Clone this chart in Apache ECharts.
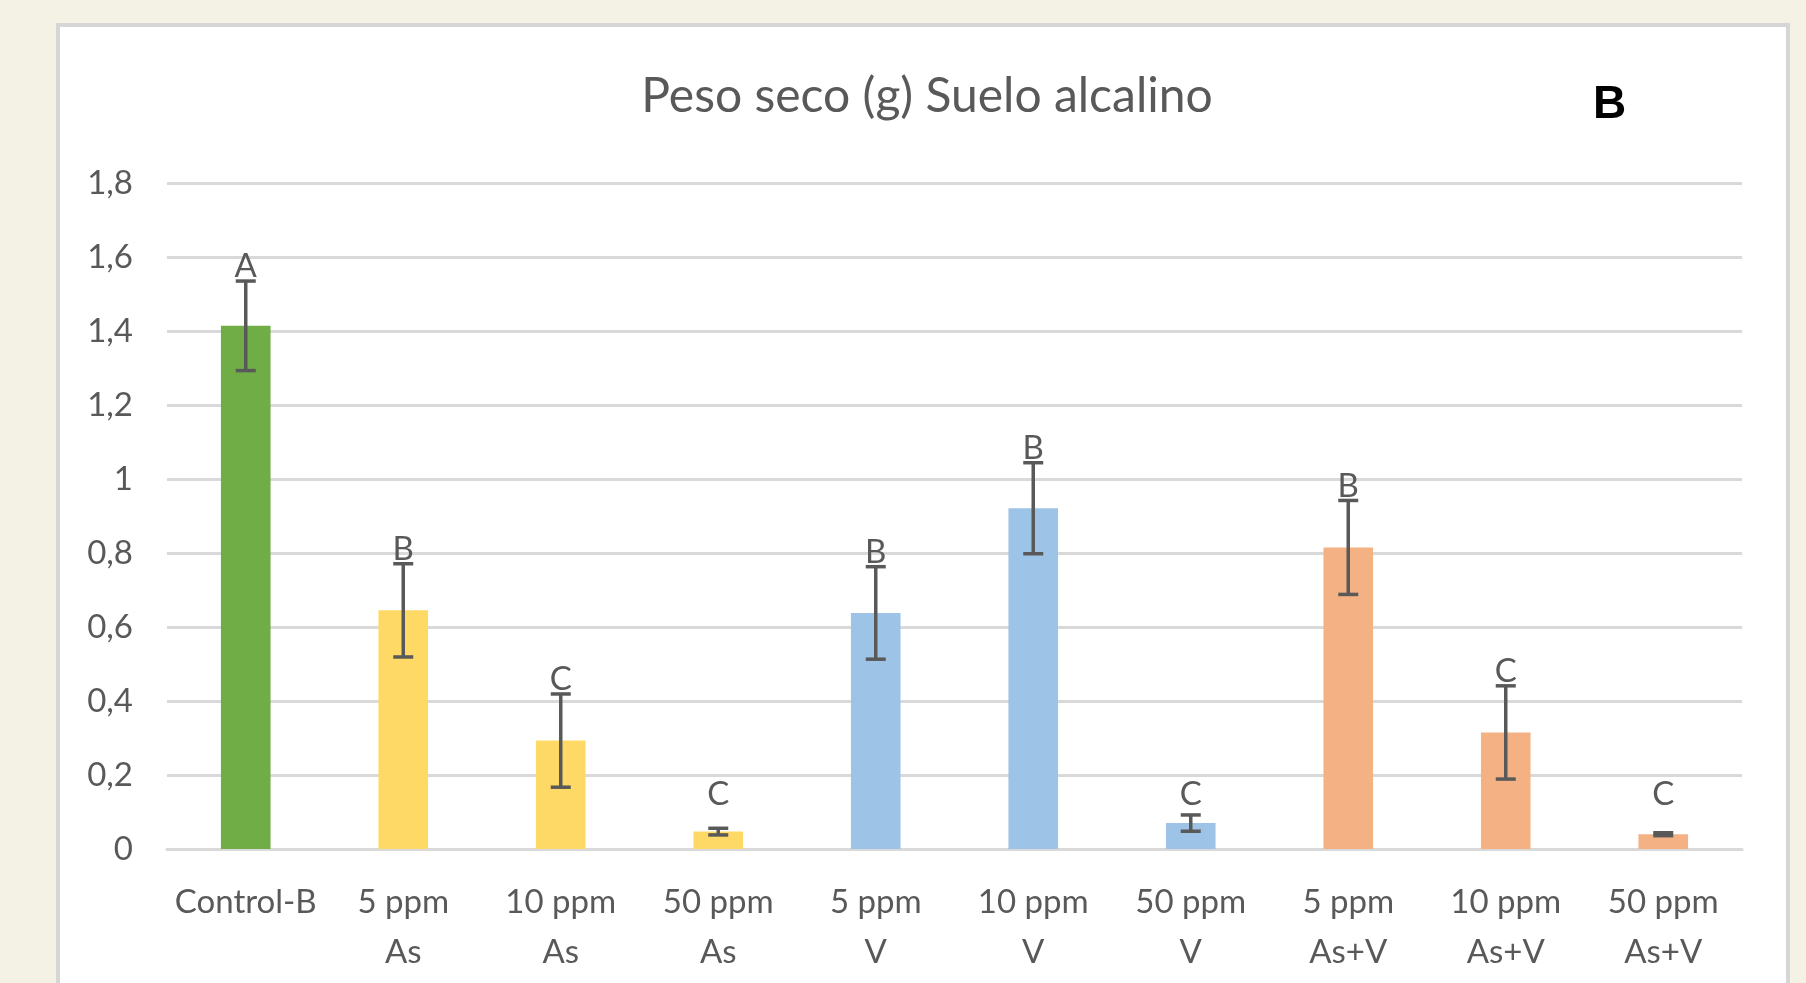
<!DOCTYPE html>
<html>
<head>
<meta charset="utf-8">
<script src="https://cdn.jsdelivr.net/npm/echarts@6/dist/echarts.min.js"></script>
<style>
html,body{margin:0;padding:0;background:#F4F1E5;}
#chart{width:1806px;height:983px;}
</style>
</head>
<body>
<div id="chart"></div>
<script>
// ---- data ----
const categories = ['Control-B', '5 ppm\nAs', '10 ppm\nAs', '50 ppm\nAs', '5 ppm\nV', '10 ppm\nV', '50 ppm\nV', '5 ppm\nAs+V', '10 ppm\nAs+V', '50 ppm\nAs+V'];
const values = [1.414, 0.645, 0.293, 0.047, 0.638, 0.921, 0.070, 0.815, 0.315, 0.040];
const errors = [0.121, 0.126, 0.126, 0.009, 0.125, 0.123, 0.022, 0.127, 0.126, 0.004];
const letters = ['A', 'B', 'C', 'C', 'B', 'B', 'C', 'B', 'C', 'C'];
const groups = ['control', 'As', 'As', 'As', 'V', 'V', 'V', 'AsV', 'AsV', 'AsV'];
const yTicks = [0, 0.2, 0.4, 0.6, 0.8, 1, 1.2, 1.4, 1.6, 1.8];
const titleText = 'Peso seco (g) Suelo alcalino';
const panelLetter = 'B';

// ---- styling ----
const groupColors = { control: '#70AD47', As: '#FFD966', V: '#9DC3E6', AsV: '#F4B183' };
const textColor = '#595959';
const gridColor = '#D9D9D9';
const fontFam = 'Lato, "Open Sans", sans-serif';

const chart = echarts.init(document.getElementById('chart'), null, { renderer: 'canvas' });

const errData = values.map((v, i) => [i, v - errors[i], v + errors[i], letters[i]]);

const option = {
  backgroundColor: '#F4F1E5',
  animation: false,
  graphic: [
    {
      type: 'rect', z: -10, silent: true,
      shape: { x: 58, y: 25, width: 1730, height: 1000 },
      style: { fill: '#FFFFFF', stroke: '#D6D6D6', lineWidth: 4 }
    },
    {
      type: 'text', z: 10, left: 1593, top: 82,
      style: { text: panelLetter, fill: '#000000', font: 'bold 46px "Liberation Sans", Arial, sans-serif' }
    }
  ],
  title: {
    text: titleText,
    left: 922, top: 68, textAlign: 'center',
    textStyle: { color: textColor, fontFamily: fontFam, fontWeight: 'normal', fontSize: 48 }
  },
  grid: { left: 167, right: 64, top: 183, bottom: 134, containLabel: false },
  xAxis: {
    type: 'category',
    data: categories,
    axisLine: { show: true, lineStyle: { color: gridColor, width: 3 } },
    axisTick: { show: false },
    axisLabel: {
      color: textColor, fontFamily: fontFam, fontSize: 33, lineHeight: 50,
      margin: 28, interval: 0
    },
    splitLine: { show: false }
  },
  yAxis: {
    type: 'value',
    min: 0, max: 1.8, interval: 0.2,
    axisLine: { show: false },
    axisTick: { show: false },
    axisLabel: {
      color: textColor, fontFamily: fontFam, fontSize: 33, margin: 34,
      formatter: function (v) {
        const t = yTicks.find(x => Math.abs(x - v) < 1e-9);
        const val = t === undefined ? v : t;
        return String(Math.round(val * 10) / 10).replace('.', ',');
      }
    },
    splitLine: { show: true, lineStyle: { color: gridColor, width: 3 } }
  },
  series: [
    {
      type: 'bar',
      barWidth: '31.5%',
      data: values.map((v, i) => ({ value: v, itemStyle: { color: groupColors[groups[i]] } })),
      z: 2
    },
    {
      type: 'custom',
      z: 5,
      data: errData,
      renderItem: function (params, api) {
        const x = api.coord([api.value(0), 0])[0];
        const zeroY = api.coord([api.value(0), 0])[1];
        const lo = api.coord([api.value(0), api.value(1)])[1];
        const hi = api.coord([api.value(0), api.value(2)])[1];
        const half = 10;
        const st = { stroke: '#595959', lineWidth: 3.5 };
        const letterBottom = Math.min(hi + 2, zeroY - 38);
        return {
          type: 'group',
          children: [
            { type: 'line', shape: { x1: x, y1: lo, x2: x, y2: hi }, style: st },
            { type: 'line', shape: { x1: x - half, y1: lo, x2: x + half, y2: lo }, style: st },
            { type: 'line', shape: { x1: x - half, y1: hi, x2: x + half, y2: hi }, style: st },
            {
              type: 'text',
              style: {
                text: letters[params.dataIndex], x: x, y: letterBottom,
                align: 'center', verticalAlign: 'bottom',
                fill: textColor, font: '33px ' + fontFam
              }
            }
          ]
        };
      }
    }
  ]
};
chart.setOption(option);
</script>
</body>
</html>
